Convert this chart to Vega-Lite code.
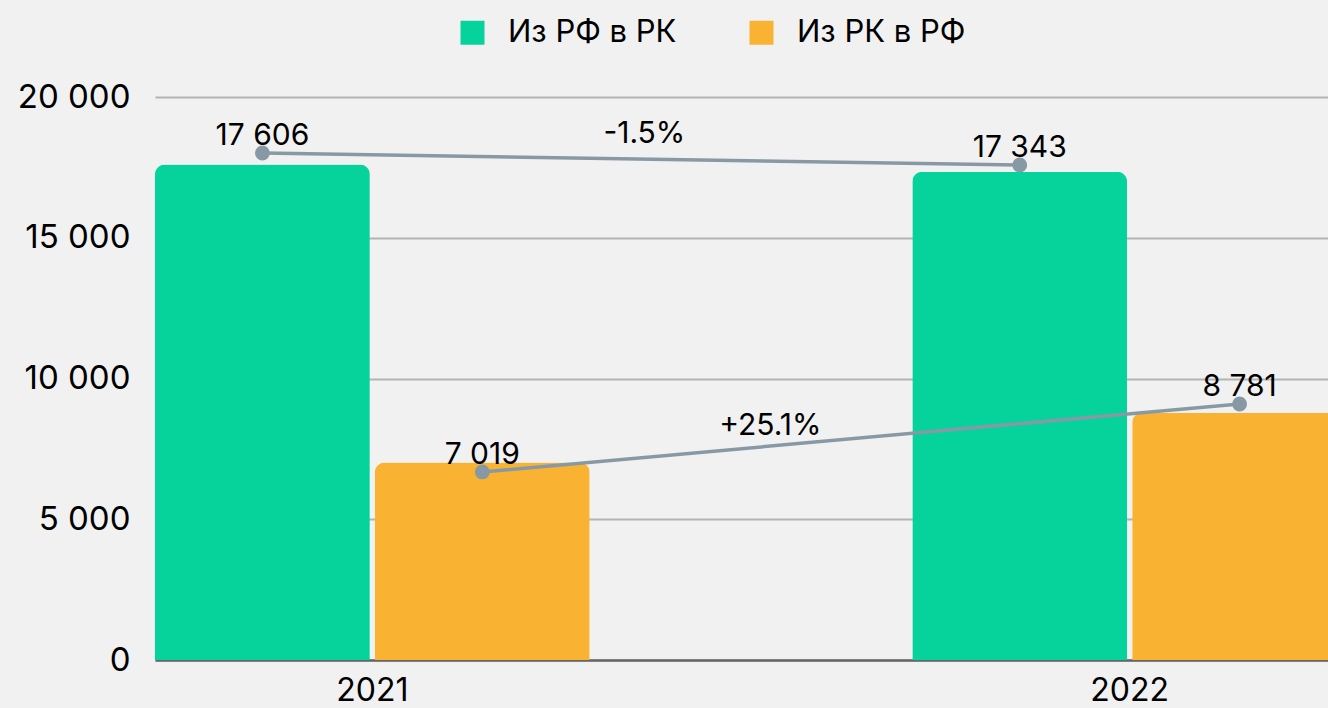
{
  "$schema": "https://vega.github.io/schema/vega-lite/v6.json",
  "width": 1173,
  "height": 563,
  "autosize": {"type": "none"},
  "padding": {"left": 155, "top": 97, "right": 0, "bottom": 48},
  "background": "#f1f1f1",
  "config": {
    "view": {"stroke": null},
    "font": "Inter",
    "text": {"font": "Inter", "fill": "#000000"}
  },
  "datasets": {
    "bars": [
      {"year": "2021", "series": "Из РФ в РК", "value": 17606, "line": 18010, "label": "17 606"},
      {"year": "2021", "series": "Из РК в РФ", "value": 7019, "line": 6680, "label": "7 019"},
      {"year": "2022", "series": "Из РФ в РК", "value": 17343, "line": 17585, "label": "17 343"},
      {"year": "2022", "series": "Из РК в РФ", "value": 8781, "line": 9095, "label": "8 781"}
    ],
    "changes": [
      {"year": "2021", "series": "Из РФ в РК", "change": "-1.5%", "at": 18366},
      {"year": "2021", "series": "Из РК в РФ", "change": "+25.1%", "at": 7993}
    ]
  },
  "encoding": {
    "x": {
      "field": "year",
      "type": "nominal",
      "scale": {"domain": ["2021", "2022"], "range": [0, 1192], "paddingInner": 0.426, "paddingOuter": 0},
      "axis": {
        "title": null,
        "labelAngle": 0,
        "ticks": false,
        "domainColor": "#666666",
        "domainWidth": 2.5,
        "labelFont": "Inter",
        "labelFontSize": 32,
        "labelColor": "#000000",
        "labelPadding": 15,
        "grid": false
      }
    }
  },
  "layer": [
    {
      "data": {"name": "bars"},
      "mark": {"type": "bar", "cornerRadiusEnd": 10},
      "encoding": {
        "xOffset": {"field": "series", "type": "nominal", "scale": {"domain": ["Из РФ в РК", "Из РК в РФ"], "paddingInner": 0.023, "paddingOuter": 0}},
        "y": {
          "field": "value",
          "type": "quantitative",
          "scale": {"domain": [0, 20000], "nice": false},
          "axis": {
            "title": null,
            "values": [0, 5000, 10000, 15000, 20000],
            "labelExpr": "replace(format(datum.value, ','), ',', ' ')",
            "domain": false,
            "ticks": false,
            "gridColor": "#b4b4b4",
            "gridWidth": 2,
            "labelFont": "Inter",
            "labelFontSize": 33,
            "labelColor": "#000000",
            "labelPadding": 25
          }
        },
        "color": {
          "field": "series",
          "type": "nominal",
          "scale": {"domain": ["Из РФ в РК", "Из РК в РФ"], "range": ["#06d39b", "#f9b231"]},
          "legend": {
            "title": null,
            "orient": "none",
            "direction": "horizontal",
            "legendX": 302,
            "legendY": -80,
            "symbolType": "square",
            "symbolSize": 576,
            "symbolStrokeWidth": 0,
            "labelFont": "Inter",
            "labelFontSize": 31,
            "labelLimit": 400,
            "labelColor": "#000000",
            "labelOffset": 20,
            "columnPadding": 69
          }
        }
      }
    },
    {
      "data": {"name": "bars"},
      "mark": {"type": "line", "color": "#8899a6", "strokeWidth": 3.5},
      "encoding": {
        "xOffset": {"field": "series", "type": "nominal", "scale": {"domain": ["Из РФ в РК", "Из РК в РФ"], "paddingInner": 0.023, "paddingOuter": 0}},
        "y": {"field": "line", "type": "quantitative"},
        "detail": {"field": "series"}
      }
    },
    {
      "data": {"name": "bars"},
      "mark": {"type": "point", "filled": true, "opacity": 1, "color": "#8899a6", "size": 220, "shape": "circle"},
      "encoding": {
        "xOffset": {"field": "series", "type": "nominal", "scale": {"domain": ["Из РФ в РК", "Из РК в РФ"], "paddingInner": 0.023, "paddingOuter": 0}},
        "y": {"field": "line", "type": "quantitative"}
      }
    },
    {
      "data": {"name": "bars"},
      "mark": {"type": "text", "fontSize": 30, "baseline": "alphabetic", "align": "center", "dy": -8},
      "encoding": {
        "xOffset": {"field": "series", "type": "nominal", "scale": {"domain": ["Из РФ в РК", "Из РК в РФ"], "paddingInner": 0.023, "paddingOuter": 0}},
        "y": {"field": "line", "type": "quantitative"},
        "text": {"field": "label"}
      }
    },
    {
      "data": {"name": "changes"},
      "transform": [{"filter": "datum.change == '-1.5%'"}],
      "mark": {"type": "text", "fontSize": 30, "baseline": "alphabetic", "align": "center", "dx": 272},
      "encoding": {
        "y": {"field": "at", "type": "quantitative"},
        "text": {"field": "change"}
      }
    },
    {
      "data": {"name": "changes"},
      "transform": [{"filter": "datum.change == '+25.1%'"}],
      "mark": {"type": "text", "fontSize": 30, "baseline": "alphabetic", "align": "center", "dx": 398},
      "encoding": {
        "y": {"field": "at", "type": "quantitative"},
        "text": {"field": "change"}
      }
    }
  ]
}
